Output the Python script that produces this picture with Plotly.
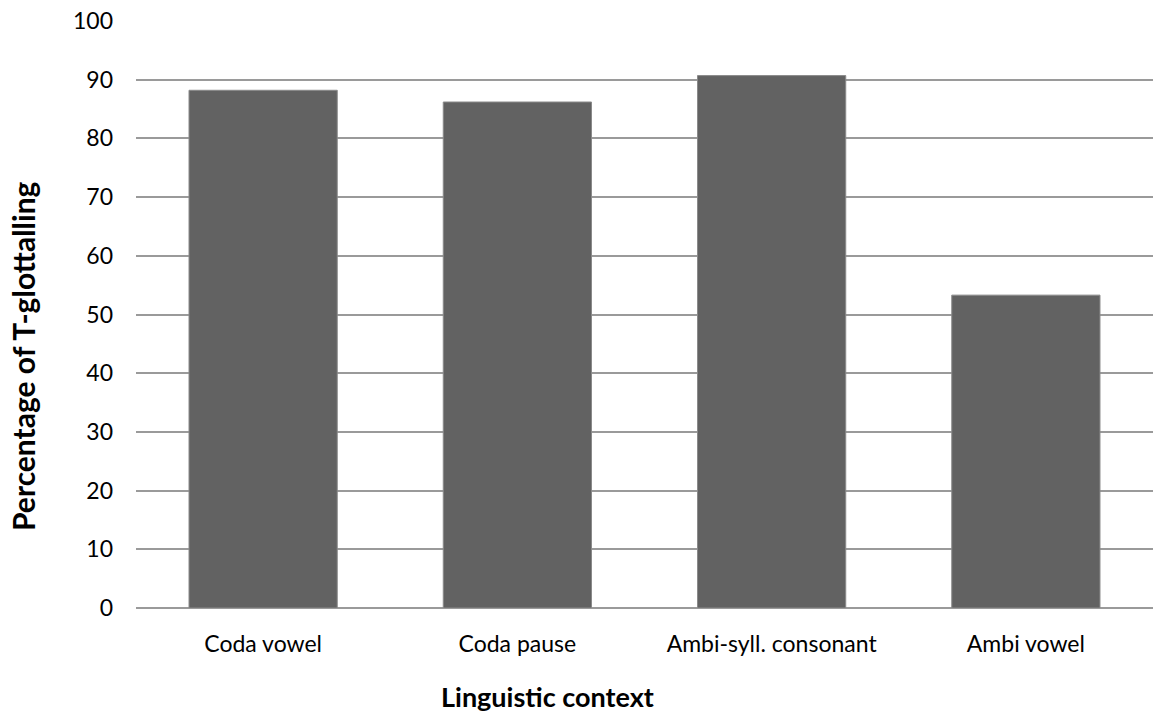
import plotly.graph_objects as go

categories = ["Coda vowel", "Coda pause", "Ambi-syll. consonant", "Ambi vowel"]
values = [88.2, 86.2, 90.7, 53.3]
y_ticks = [0, 10, 20, 30, 40, 50, 60, 70, 80, 90, 100]

FONT = "Lato, 'Open Sans', sans-serif"

W, H = 1166, 713
L, R, T, B = 136, 13, 21, 105
pw = W - L - R
ph = H - T - B


def px_x(x):
    return (x - L) / pw


def px_y(y):
    return (H - B - y) / ph


fig = go.Figure()
fig.add_trace(go.Bar(
    x=categories, y=values,
    marker=dict(color="#626262", line=dict(color="#8a8a8a", width=1)),
    width=0.583,
))

fig.update_layout(
    width=W, height=H,
    margin=dict(l=L, r=R, t=T, b=B, autoexpand=False),
    plot_bgcolor="white", paper_bgcolor="white",
    showlegend=False,
    font=dict(family=FONT, size=23, color="#000000"),
    xaxis=dict(
        showgrid=False, showline=False, zeroline=False, automargin=False,
        tickfont=dict(size=23), ticks="", ticklabelstandoff=20,
    ),
    yaxis=dict(
        range=[0, 100], tickvals=y_ticks, showgrid=True, automargin=False,
        gridcolor="#9a9a9a", gridwidth=1.5, zeroline=True,
        zerolinecolor="#9a9a9a", zerolinewidth=1.5, showline=False,
        tickfont=dict(size=23), ticks="", ticklabelstandoff=22,
    ),
    annotations=[
        dict(text="<b>Linguistic context</b>", xref="paper", yref="paper",
             x=px_x(547), y=px_y(696), xanchor="center", yanchor="middle",
             showarrow=False, font=dict(size=27)),
        dict(text="<b>Percentage of T-glottalling</b>", xref="paper", yref="paper",
             x=px_x(23), y=px_y(356), xanchor="center", yanchor="middle",
             textangle=-90, showarrow=False, font=dict(size=30)),
    ],
)

fig.write_html(
    "out.html",
    config={"displayModeBar": False},
    post_script="document.body.style.margin='0';document.body.style.overflow='hidden';",
)
